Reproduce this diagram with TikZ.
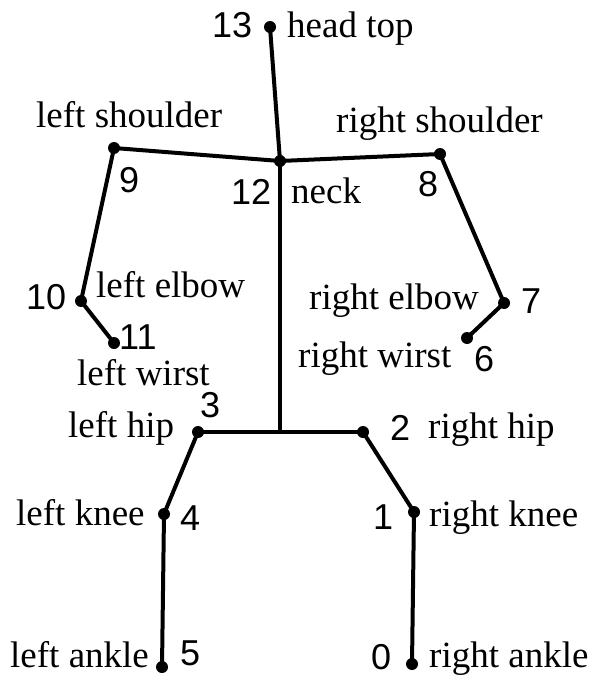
\documentclass[tikz,border=0pt]{standalone}
\usepackage{fontspec}
\setmainfont{Liberation Serif}
\newfontfamily\numfont{Liberation Sans}
\begin{document}
\begin{tikzpicture}[x=1pt,y=-1pt,
  joint/.style={circle,fill=black,inner sep=0pt,minimum size=12pt},
  bone/.style={line width=4pt,line cap=round,line join=round},
  lbl/.style={inner sep=0pt,anchor=base west,font=\fontsize{37}{40}\selectfont},
  num/.style={inner sep=0pt,anchor=base west,font=\numfont\fontsize{36}{40}\selectfont}]
\useasboundingbox (0,0) rectangle (612,687);
% joints
\node[joint] (j13) at (270,27) {};
\node[joint] (j12) at (280,161) {};
\node[joint] (j9) at (114,148) {};
\node[joint] (j8) at (440,154) {};
\node[joint] (j10) at (81,301) {};
\node[joint] (j11) at (114,343) {};
\node[joint] (j7) at (504,303) {};
\node[joint] (j6) at (467,338) {};
\node[joint] (j3) at (198,432) {};
\node[joint] (j2) at (363,432) {};
\node[joint] (j4) at (164,514) {};
\node[joint] (j5) at (162,667) {};
\node[joint] (j1) at (414,512) {};
\node[joint] (j0) at (412,664) {};
\coordinate (pel) at (280,432);
% bones
\draw[bone] (j13.center) -- (j12.center);
\draw[bone] (j9.center) -- (j12.center) -- (j8.center);
\draw[bone] (j9.center) -- (j10.center) -- (j11.center);
\draw[bone] (j8.center) -- (j7.center) -- (j6.center);
\draw[bone] (j12.center) -- (pel);
\draw[bone] (j3.center) -- (pel) -- (j2.center);
\draw[bone] (j3.center) -- (j4.center) -- (j5.center);
\draw[bone] (j2.center) -- (j1.center) -- (j0.center);
% labels
\node[num] (n13) at (212,38) {13};
\node[lbl] (t13) at (287,38) {head top};
\node[lbl] (t9) at (36,128) {left shoulder};
\node[lbl] (t8) at (336,133) {right shoulder};
\node[num] (n9) at (119,193) {9};
\node[num] (n8) at (418,196) {8};
\node[num] (n12) at (231,204) {12};
\node[lbl] (t12) at (291,203) {neck};
\node[num] (n10) at (26,309) {10};
\node[lbl] (t10) at (96,297) {left elbow};
\node[num] (n11) at (119,349) {11};
\node[lbl] (t11) at (77,385) {left wirst};
\node[lbl] (t7) at (309,309) {right elbow};
\node[num] (n7) at (521,313) {7};
\node[lbl] (t6) at (298,367) {right wirst};
\node[num] (n6) at (474,371) {6};
\node[num] (n3) at (200,417) {3};
\node[lbl] (t3) at (68,437) {left hip};
\node[num] (n2) at (390,440) {2};
\node[lbl] (t2) at (428,438) {right hip};
\node[lbl] (t4) at (16,525) {left knee};
\node[num] (n4) at (180,530) {4};
\node[num] (n1) at (373,529) {1};
\node[lbl] (t1) at (429,526) {right knee};
\node[lbl] (t5) at (10,667) {left ankle};
\node[num] (n5) at (180,665) {5};
\node[num] (n0) at (371,669) {0};
\node[lbl] (t0) at (429,667) {right ankle};
\end{tikzpicture}
\end{document}
